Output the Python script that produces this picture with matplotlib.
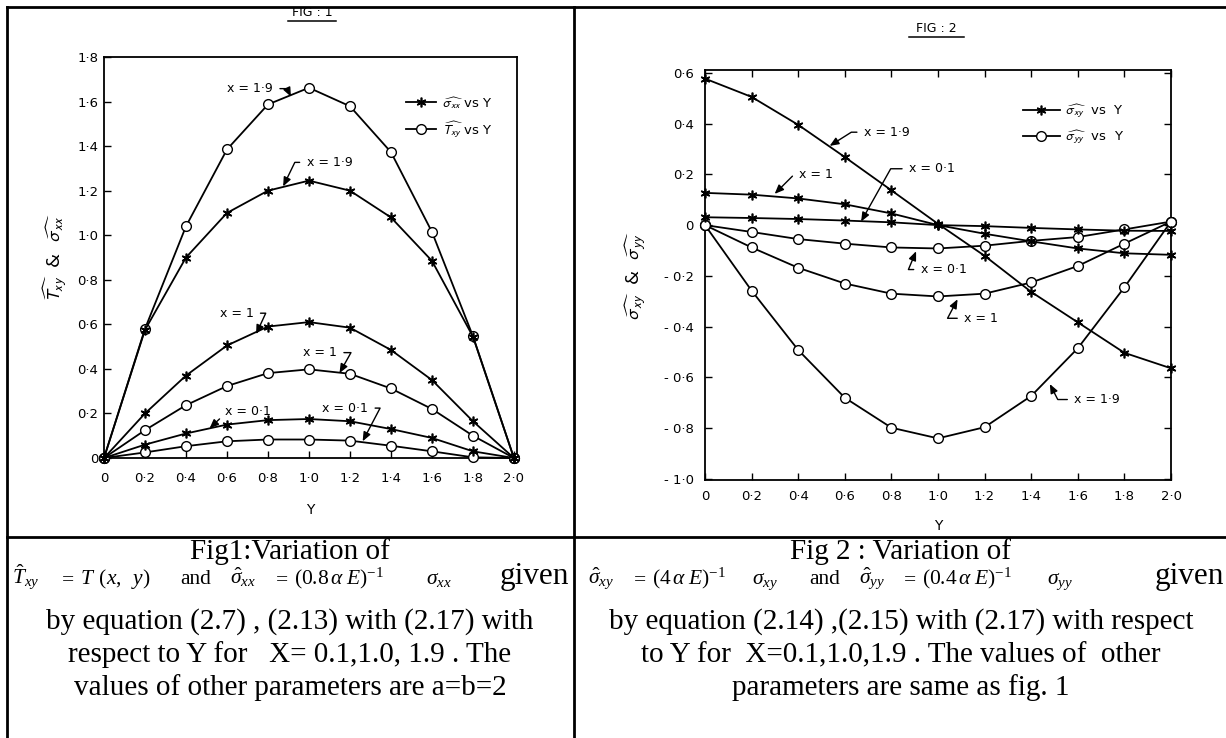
import matplotlib
matplotlib.use("Agg")
import matplotlib.pyplot as plt
from matplotlib.lines import Line2D
import numpy as np

# ---------------- data ----------------
Y_VALUES = [0.0, 0.2, 0.4, 0.6, 0.8, 1.0, 1.2, 1.4, 1.6, 1.8, 2.0]
XTICK_LABELS = ["0", "0·2", "0·4", "0·6", "0·8", "1·0", "1·2", "1·4", "1·6", "1·8", "2·0"]

FIG1_YTICKS = [0.0, 0.2, 0.4, 0.6, 0.8, 1.0, 1.2, 1.4, 1.6, 1.8]
FIG1_YTICK_LABELS = ["0", "0·2", "0·4", "0·6", "0·8", "1·0", "1·2", "1·4", "1·6", "1·8"]
FIG2_YTICKS = [-1.0, -0.8, -0.6, -0.4, -0.2, 0.0, 0.2, 0.4, 0.6]
FIG2_YTICK_LABELS = ["- 1·0", "- 0·8", "- 0·6", "- 0·4", "- 0·2", "0", "0·2", "0·4", "0·6"]

# Fig 1 : sigma_xx (stars) and T_xy (circles)
sxx_x01 = [0, 0.06, 0.11, 0.15, 0.17, 0.175, 0.165, 0.13, 0.09, 0.03, 0]
sxx_x10 = [0, 0.20, 0.37, 0.505, 0.59, 0.61, 0.585, 0.485, 0.35, 0.165, 0]
sxx_x19 = [0, 0.575, 0.90, 1.10, 1.20, 1.245, 1.20, 1.08, 0.885, 0.545, 0]
txy_x01 = [0, 0.025, 0.053, 0.075, 0.083, 0.083, 0.078, 0.055, 0.03, 0.003, 0]
txy_x10 = [0, 0.125, 0.237, 0.323, 0.381, 0.398, 0.378, 0.312, 0.22, 0.10, 0]
txy_x19 = [0, 0.58, 1.04, 1.385, 1.587, 1.662, 1.579, 1.373, 1.015, 0.547, 0]

# Fig 2 : sigma_xy (stars) and sigma_yy (circles)
sxy_x01 = [0.031, 0.028, 0.024, 0.018, 0.011, 0.0, -0.004, -0.011, -0.017, -0.022, -0.023]
sxy_x10 = [0.127, 0.12, 0.105, 0.082, 0.046, 0.0, -0.034, -0.064, -0.092, -0.111, -0.117]
sxy_x19 = [0.577, 0.505, 0.395, 0.268, 0.137, 0.005, -0.121, -0.263, -0.383, -0.503, -0.564]
syy_x01 = [0.0, -0.027, -0.055, -0.073, -0.088, -0.092, -0.081, -0.062, -0.047, -0.017, 0.014]
syy_x10 = [0.0, -0.088, -0.168, -0.23, -0.27, -0.281, -0.27, -0.226, -0.161, -0.073, 0.014]
syy_x19 = [0.0, -0.258, -0.492, -0.68, -0.798, -0.84, -0.796, -0.673, -0.485, -0.245, 0.014]

# ---------------- figure ----------------
W, H = 1226, 738
plt.rcParams['mathtext.fontset'] = 'custom'
plt.rcParams['mathtext.rm'] = 'Liberation Serif'
plt.rcParams['mathtext.it'] = 'Liberation Serif:italic'
plt.rcParams['mathtext.bf'] = 'Liberation Serif:bold'

fig = plt.figure(figsize=(W / 100, H / 100), dpi=100)
fig.patch.set_facecolor('white')


def fx(px):
    return px / W


def fy(py):
    return 1 - py / H


TICK_FONT = dict(family='DejaVu Sans', size=9.5)
STAR = dict(marker=(6, 2, 0), ms=7, mew=1.2, color='black', lw=1.3)
CIRC = dict(marker='o', ms=7, mew=1.0, mfc='white', mec='black', color='black', lw=1.3)
PLOT_MATH = 'stixsans'


def hook(ax, label, target, textpos, elbow):
    p1 = ax.transData.transform(elbow)
    p2 = ax.transData.transform(target)
    ang = np.degrees(np.arctan2(p2[1] - p1[1], p2[0] - p1[0]))
    ax.annotate(label, xy=target, xytext=textpos, ha='center', va='center',
                fontsize=9, family='DejaVu Sans', zorder=6,
                arrowprops=dict(arrowstyle='-|>,head_length=0.6,head_width=0.25',
                                color='black', lw=1.0, shrinkA=3, shrinkB=0,
                                connectionstyle=f"angle,angleA=0,angleB={ang:.2f},rad=0"))


def style_axes(ax, all_sides):
    for s in ax.spines.values():
        s.set_linewidth(1.3)
        s.set_color('black')
    ax.tick_params(direction='in', length=5, width=1.0, colors='black',
                   top=all_sides, right=all_sides)
    ax.set_xticks(Y_VALUES)
    ax.set_xticklabels(XTICK_LABELS, fontdict=TICK_FONT)
    ax.set_facecolor('white')


# ---- Fig 1 axes ----
AX1_TOP, AX1_BOT = 57, 458
ax1 = fig.add_axes([fx(104), fy(AX1_BOT), fx(517 - 104), (AX1_BOT - AX1_TOP) / H])
style_axes(ax1, False)
ax1.tick_params(axis='x', pad=10)
ax1.tick_params(axis='y', pad=4)
ax1.set_xlim(0, 2.015)
ax1.set_ylim(0, 1.8)
ax1.set_yticks(FIG1_YTICKS)
ax1.set_yticklabels(FIG1_YTICK_LABELS, fontdict=TICK_FONT)

for ser in [txy_x01, txy_x10]:
    ax1.plot(Y_VALUES, ser, zorder=3, clip_on=False, **CIRC)
l_t, = ax1.plot(Y_VALUES, txy_x19, zorder=3, clip_on=False, **CIRC)
for ser in [sxx_x01, sxx_x10]:
    ax1.plot(Y_VALUES, ser, zorder=4, clip_on=False, **STAR)
l_s, = ax1.plot(Y_VALUES, sxx_x19, zorder=4, clip_on=False, **STAR)

ax1.legend([l_s, l_t],
           [r"$\widehat{\sigma_{xx}}$ vs Y", r"$\widehat{T_{xy}}$ vs Y"],
           loc='center left', bbox_to_anchor=(0.715, 0.85), frameon=False,
           borderpad=0, handlelength=2.3, handletextpad=0.4, labelspacing=0.6,
           prop=dict(family='DejaVu Sans', size=9.5))
for t in ax1.get_legend().get_texts():
    t.set_math_fontfamily(PLOT_MATH)

ax1.set_xlabel("Y", family='DejaVu Sans', fontsize=10, labelpad=13)
ax1.text(-0.117, 0.5, r"$\widehat{T_{xy}}$  &  $\widehat{\sigma_{xx}}$",
         transform=ax1.transAxes, rotation=90, ha='center', va='center',
         fontsize=13, math_fontfamily=PLOT_MATH)

hook(ax1, "x = 1·9", (0.912, 1.622), (0.713, 1.658), (0.893, 1.658))
hook(ax1, "x = 1·9", (0.874, 1.219), (1.10, 1.327), (0.931, 1.327))
hook(ax1, "x = 1", (0.742, 0.556), (0.647, 0.65), (0.789, 0.65))
hook(ax1, "x = 1", (1.149, 0.381), (1.054, 0.473), (1.205, 0.473))
hook(ax1, "x = 0·1", (0.515, 0.133), (0.704, 0.207), (0.60, 0.207))
hook(ax1, "x = 0·1", (1.262, 0.075), (1.177, 0.224), (1.347, 0.224))

# ---- Fig 2 axes ----
AX2_TOP, AX2_BOT = 70, 480
ax2 = fig.add_axes([fx(705), fy(AX2_BOT), fx(1171 - 705), (AX2_BOT - AX2_TOP) / H])
style_axes(ax2, True)
ax2.tick_params(axis='x', pad=7)
ax2.tick_params(axis='y', pad=8)
ax2.set_xlim(0, 2.0)
ax2.set_ylim(-1.004, 0.611)
ax2.set_yticks(FIG2_YTICKS)
ax2.set_yticklabels(FIG2_YTICK_LABELS, fontdict=TICK_FONT)

for ser in [syy_x01, syy_x10]:
    ax2.plot(Y_VALUES, ser, zorder=3, clip_on=False, **CIRC)
l_yy, = ax2.plot(Y_VALUES, syy_x19, zorder=3, clip_on=False, **CIRC)
for ser in [sxy_x01, sxy_x10]:
    ax2.plot(Y_VALUES, ser, zorder=4, clip_on=False, **STAR)
l_xy, = ax2.plot(Y_VALUES, sxy_x19, zorder=4, clip_on=False, **STAR)

ax2.legend([l_xy, l_yy],
           [r"$\widehat{\sigma_{xy}}$  vs  Y", r"$\widehat{\sigma_{yy}}$  vs  Y"],
           loc='center left', bbox_to_anchor=(0.668, 0.868), frameon=False,
           borderpad=0, handlelength=2.8, handletextpad=0.4, labelspacing=0.6,
           prop=dict(family='DejaVu Sans', size=9.5))
for t in ax2.get_legend().get_texts():
    t.set_math_fontfamily(PLOT_MATH)

ax2.set_xlabel("Y", family='DejaVu Sans', fontsize=10, labelpad=12)
ax2.text(-0.148, 0.5, r"$\widehat{\sigma_{xy}}$  &  $\widehat{\sigma_{yy}}$",
         transform=ax2.transAxes, rotation=90, ha='center', va='center',
         fontsize=13, math_fontfamily=PLOT_MATH)

hook(ax2, "x = 1·9", (0.535, 0.312), (0.78, 0.366), (0.628, 0.366))
hook(ax2, "x = 1", (0.299, 0.123), (0.476, 0.20), (0.383, 0.20))
hook(ax2, "x = 0·1", (0.67, 0.014), (0.974, 0.222), (0.797, 0.222))
hook(ax2, "x = 0·1", (0.906, -0.103), (1.024, -0.175), (0.873, -0.175))
hook(ax2, "x = 1", (1.084, -0.292), (1.185, -0.367), (1.041, -0.367))
hook(ax2, "x = 1·9", (1.48, -0.626), (1.683, -0.687), (1.514, -0.687))

# ---- figure titles (underlined) ----
fig.text(fx(312), fy(13), "FIG : 1", ha='center', va='center', family='DejaVu Sans', fontsize=9)
fig.add_artist(Line2D([fx(288), fx(336)], [fy(21), fy(21)], color='black', lw=1.1))
fig.text(fx(936), fy(29), "FIG : 2", ha='center', va='center', family='DejaVu Sans', fontsize=9)
fig.add_artist(Line2D([fx(909), fx(964)], [fy(37), fy(37)], color='black', lw=1.1))

# ---- table grid ----
TLW = 2.0
LINE_Y = 537
fig.add_artist(Line2D([fx(7), fx(7)], [fy(7), 0], color='black', lw=TLW))
fig.add_artist(Line2D([fx(7), 1], [fy(7), fy(7)], color='black', lw=TLW))
fig.add_artist(Line2D([fx(574), fx(574)], [fy(7), 0], color='black', lw=TLW))
fig.add_artist(Line2D([fx(7), 1], [fy(LINE_Y), fy(LINE_Y)], color='black', lw=TLW))

# ---- captions ----
CAP = dict(family='Liberation Serif', fontsize=21, color='black')
GIVEN = dict(family='Liberation Serif', fontsize=22.5, color='black')
MATH = dict(family='Liberation Serif', fontsize=15.5, color='black', va='baseline',
            ha='left', math_fontfamily='custom')
ROW2 = 584

fig.text(fx(290), fy(552), "Fig1:Variation of", ha='center', va='center', **CAP)
left_pieces = [(12, r"$\hat{T}_{xy}$"), (58, r"$=$"), (80, r"$T\;\,(x,\;\;y)$"),
               (180, "and"), (230, r"$\hat{\sigma}_{xx}$"), (272, r"$=$"),
               (294, r"$(0.8\,\alpha\;E)^{-1}$"), (426, r"$\sigma_{xx}$")]
for px, s in left_pieces:
    fig.text(fx(px), fy(ROW2), s, **MATH)
fig.text(fx(569), fy(ROW2), "given", ha='right', va='baseline', **GIVEN)
fig.text(fx(290), fy(622), "by equation (2.7) , (2.13) with (2.17) with", ha='center', va='center', **CAP)
fig.text(fx(290), fy(655), "respect to Y for   X= 0.1,1.0, 1.9 . The", ha='center', va='center', **CAP)
fig.text(fx(290), fy(688), "values of other parameters are a=b=2", ha='center', va='center', **CAP)

fig.text(fx(900), fy(552), "Fig 2 : Variation of", ha='center', va='center', **CAP)
right_pieces = [(588, r"$\hat{\sigma}_{xy}$"), (630, r"$=$"), (652, r"$(4\,\alpha\;E)^{-1}$"),
                (752, r"$\sigma_{xy}$"), (809, "and"), (859, r"$\hat{\sigma}_{yy}$"),
                (900, r"$=$"), (922, r"$(0.4\,\alpha\;E)^{-1}$"), (1047, r"$\sigma_{yy}$")]
for px, s in right_pieces:
    fig.text(fx(px), fy(ROW2), s, **MATH)
fig.text(fx(1224), fy(ROW2), "given", ha='right', va='baseline', **GIVEN)
fig.text(fx(901), fy(622), "by equation (2.14) ,(2.15) with (2.17) with respect", ha='center', va='center', **CAP)
fig.text(fx(901), fy(655), "to Y for  X=0.1,1.0,1.9 . The values of  other", ha='center', va='center', **CAP)
fig.text(fx(901), fy(688), "parameters are same as fig. 1", ha='center', va='center', **CAP)

fig.savefig("out.png", dpi=100, facecolor='white')
